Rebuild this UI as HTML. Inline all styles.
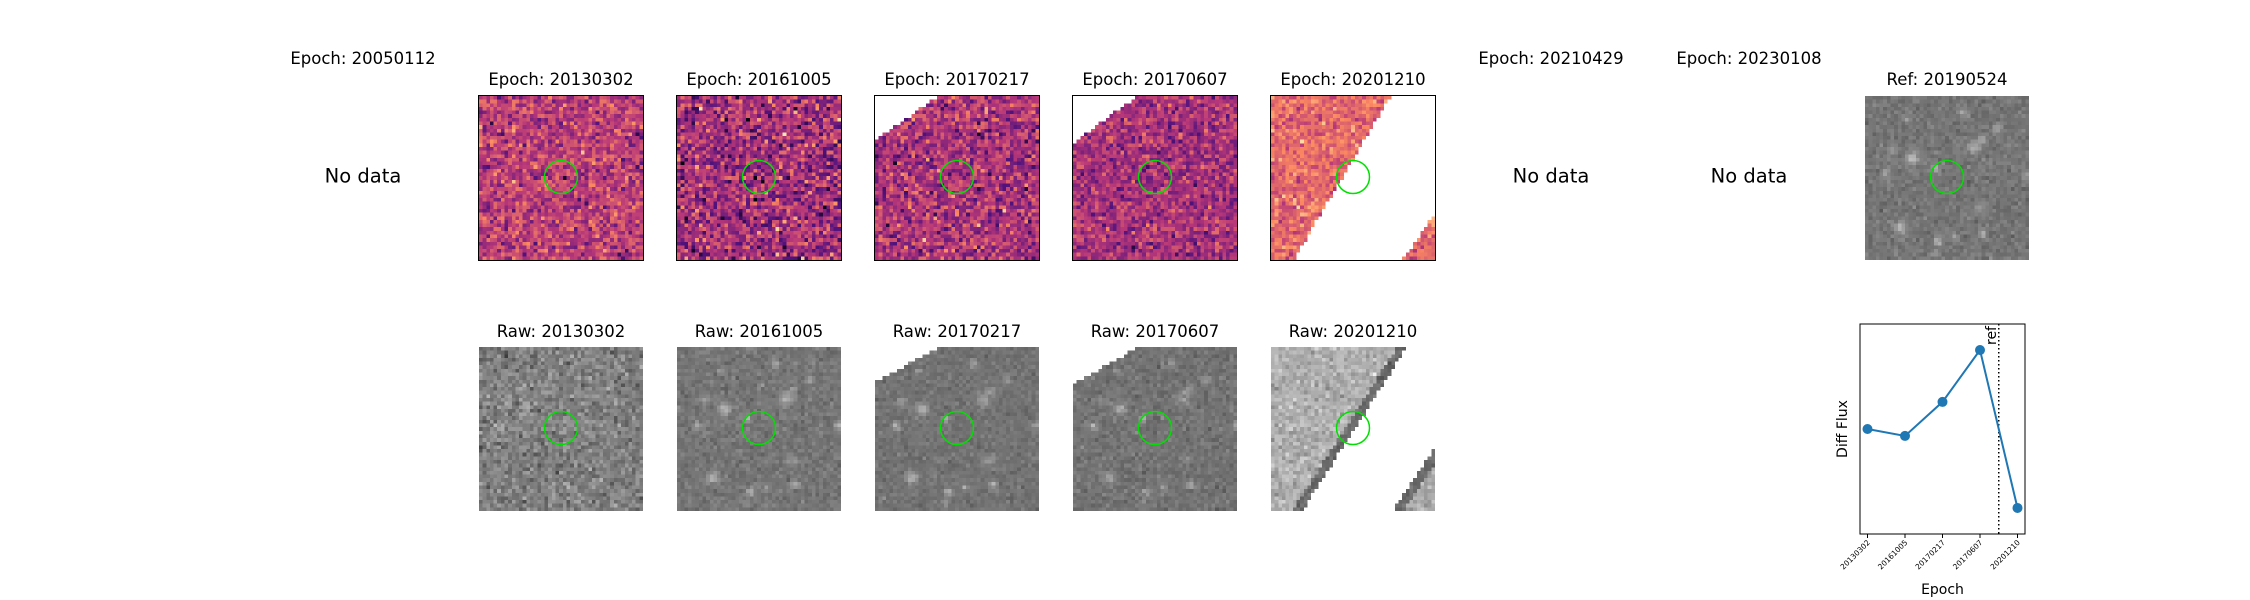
<!DOCTYPE html>
<html><head><meta charset="utf-8"><style>
body{margin:0;background:#fff;width:2250px;height:600px;position:relative;overflow:hidden;font-family:"DejaVu Sans","Liberation Sans",sans-serif;}
.t{position:absolute;font-size:16.5px;color:#000;transform:translateX(-50%);white-space:nowrap;line-height:1;}
.nd{position:absolute;font-size:19.5px;transform:translate(-50%,-50%);white-space:nowrap;}
.p{position:absolute;width:164px;height:164px;}
canvas{width:164px;height:164px;image-rendering:pixelated;display:block;position:absolute;left:0;top:0;}
.frame{position:absolute;left:-1px;top:-1px;width:164px;height:164px;border:1px solid #000;}
svg.c{position:absolute;left:0;top:0;pointer-events:none;}
</style></head><body>
<div id="root"></div>
<svg id="lc" width="2250" height="600" style="position:absolute;left:0;top:0"></svg>
<script>
const epochs=["20130302","20161005","20170217","20170607","20201210"];
const diffFlux=[0.50,0.467,0.629,0.876,0.124];
const refIndex=3.5;
const cols=["20050112","20130302","20161005","20170217","20170607","20201210","20210429","20230108"];
const hasData=[false,true,true,true,true,true,false,false];

let seed=12345;
function rnd(){seed=(seed*1103515245+12345)&0x7fffffff;return seed/0x7fffffff;}
function gauss(){let u=rnd()||1e-6,v=rnd();return Math.sqrt(-2*Math.log(u))*Math.cos(2*Math.PI*v);}
const mag=[[0,0,4],[81,18,124],[183,55,121],[252,137,97],[252,253,191]];
function magma(t){t=Math.max(0,Math.min(1,t))*4;const i=Math.min(3,Math.floor(t)),f=t-i;const a=mag[i],b=mag[i+1];return [a[0]+(b[0]-a[0])*f,a[1]+(b[1]-a[1])*f,a[2]+(b[2]-a[2])*f];}
const N=45;
function triTL(ax,ay){return (x,y)=>x/ax+y/ay<1;}
function band(topX,botX,rY,bX){return (x,y)=>{const lx=topX+(botX-topX)*y;if(x<lx)return false;
 const inCorner=(x-bX)/(1-bX)+(y-rY)/(1-rY)>1; return !inCorner;};}
function stars(){const s=[];for(let i=0;i<16;i++)s.push([rnd()*N,rnd()*N,0.08+rnd()*0.18,0.8+rnd()*1.0]);return s;}
const starSet=stars();
function drawPanel(c,kind,opts){
 const ctx=c.getContext('2d');const img=ctx.createImageData(N,N);
 for(let y=0;y<N;y++)for(let x=0;x<N;x++){
  const k=(y*N+x)*4;const fx=(x+0.5)/N,fy=(y+0.5)/N;
  if(opts.mask&&opts.mask(fx,fy)){img.data[k]=img.data[k+1]=img.data[k+2]=255;img.data[k+3]=255;continue;}
  let r,g,b;
  if(kind==='m'){const v=opts.mean+gauss()*opts.sd;[r,g,b]=magma(v);}
  else{let v=opts.mean+gauss()*opts.sd;
   for(const s of starSet){const d2=((x-s[0])**2+(y-s[1])**2)/(s[3]*s[3]);v+=s[2]*Math.exp(-d2)*opts.star;}
   if(opts.edge&&opts.edge(fx,fy))v*=0.62;
   v=Math.max(0,Math.min(1,v));r=g=b=v*255;}
  img.data[k]=r;img.data[k+1]=g;img.data[k+2]=b;img.data[k+3]=255;}
 ctx.putImageData(img,0,0);
}
const root=document.getElementById('root');
const L0=281,STEP=198;
const magOpts=[null,{mean:0.52,sd:0.11},{mean:0.45,sd:0.14},{mean:0.47,sd:0.12,mask:triTL(0.39,0.27)},{mean:0.46,sd:0.1,mask:triTL(0.39,0.29)},{mean:0.66,sd:0.08,mask:band(0.73,0.14,0.72,0.8)}];
function bandEdge(topX,botX,rY,bX){return (x,y)=>{const lx=topX+(botX-topX)*y;if(x<lx&&x>lx-0.06)return true;
 const s=(x-bX)/(1-bX)+(y-rY)/(1-rY);return s>1&&s<1.25;};}
const rawOpts=[null,{mean:0.5,sd:0.07,star:0.4},{mean:0.46,sd:0.035,star:1},{mean:0.45,sd:0.03,star:1,mask:triTL(0.40,0.21)},{mean:0.45,sd:0.035,star:0.9,mask:triTL(0.40,0.23)},{mean:0.68,sd:0.06,star:0.3,mask:band(0.83,0.19,0.61,0.74),edge:bandEdge(0.83,0.19,0.61,0.74)}];
function addCircle(p){const s=document.createElementNS('http://www.w3.org/2000/svg','svg');s.setAttribute('class','c');s.setAttribute('width','164');s.setAttribute('height','164');
 
 s.innerHTML='<circle cx="82" cy="81" r="16.5" fill="none" stroke="#00e000" stroke-width="1.5"/>';p.appendChild(s);}
cols.forEach((ep,i)=>{
 const left=L0+i*STEP,cx=left+82;
 const t=document.createElement('div');t.className='t';
 
 
 t.textContent='Epoch: '+ep;t.style.left=cx+'px';t.style.top=(hasData[i]?72:51)+'px';root.appendChild(t);
 if(!hasData[i]){const n=document.createElement('div');n.className='nd';
  
  
  n.textContent='No data';n.style.left=cx+'px';n.style.top='176px';root.appendChild(n);return;}
 const p=document.createElement('div');p.className='p';p.style.left=left+'px';p.style.top='96px';
 
 
 const c=document.createElement('canvas');c.width=N;c.height=N;p.appendChild(c);drawPanel(c,'m',magOpts[i]);
 const f=document.createElement('div');f.className='frame';p.appendChild(f);addCircle(p);root.appendChild(p);
 const t2=document.createElement('div');t2.className='t';
 
 
 t2.textContent='Raw: '+ep;t2.style.left=cx+'px';t2.style.top='324px';root.appendChild(t2);
 const p2=document.createElement('div');p2.className='p';p2.style.left=left+'px';p2.style.top='347px';
 
 
 const c2=document.createElement('canvas');c2.width=N;c2.height=N;p2.appendChild(c2);drawPanel(c2,'g',rawOpts[i]);addCircle(p2);root.appendChild(p2);
});
{const left=L0+8*STEP,cx=left+82;
 const t=document.createElement('div');t.className='t';
 
 
 t.textContent='Ref: 20190524';t.style.left=cx+'px';t.style.top='72px';root.appendChild(t);
 const p=document.createElement('div');p.className='p';p.style.left=left+'px';p.style.top='96px';
 
 
 const c=document.createElement('canvas');c.width=N;c.height=N;p.appendChild(c);drawPanel(c,'g',{mean:0.46,sd:0.035,star:1});addCircle(p);root.appendChild(p);}
const svg=document.getElementById('lc');const NS='http://www.w3.org/2000/svg';
const AX={l:1860,r:2025,t:324,b:534};
const xmin=-0.2,xmax=epochs.length-1+0.2;
const ymin=0,ymax=1;
const X=i=>AX.l+(i-xmin)/(xmax-xmin)*(AX.r-AX.l);
const Y=v=>AX.b-(v-ymin)/(ymax-ymin)*(AX.b-AX.t);
function el(tag,attrs,parent){const e=document.createElementNS(NS,tag);for(const k in attrs)e.setAttribute(k,attrs[k]);(parent||svg).appendChild(e);return e;}
const FF='DejaVu Sans, Liberation Sans, sans-serif';
const frame=el('rect',{x:AX.l,y:AX.t,width:AX.r-AX.l,height:AX.b-AX.t,fill:'none',stroke:'#000','stroke-width':1});


const rl=el('line',{x1:X(refIndex),x2:X(refIndex),y1:AX.t,y2:AX.b,stroke:'#000','stroke-width':1.5,'stroke-dasharray':'1.5,2.5'});


const rt=el('text',{x:0,y:0,'font-size':14,'text-anchor':'end',transform:`translate(${X(refIndex)-3},${AX.t+2}) rotate(-90)`,'font-family':FF});rt.textContent='ref';


const line=el('polyline',{points:diffFlux.map((v,i)=>X(i)+','+Y(v)).join(' '),fill:'none',stroke:'#1f77b4','stroke-width':2});


diffFlux.forEach((v,i)=>{const c=el('circle',{cx:X(i),cy:Y(v),r:5,fill:'#1f77b4'});
 
 
 el('line',{x1:X(i),x2:X(i),y1:AX.b,y2:AX.b+4,stroke:'#000','stroke-width':1});
 const t=el('text',{x:0,y:0,'font-size':7.5,'text-anchor':'end',fill:'#000',transform:`translate(${X(i)+3},${AX.b+9}) rotate(-45)`,'font-family':FF});t.textContent=epochs[i];
 
 });
const yl=el('text',{x:0,y:0,'font-size':14,'text-anchor':'middle',transform:`translate(1847,${(AX.t+AX.b)/2}) rotate(-90)`,'font-family':FF});yl.textContent='Diff Flux';


const xl=el('text',{x:(AX.l+AX.r)/2,y:594,'font-size':14,'text-anchor':'middle','font-family':FF});xl.textContent='Epoch';


</script></body></html>
